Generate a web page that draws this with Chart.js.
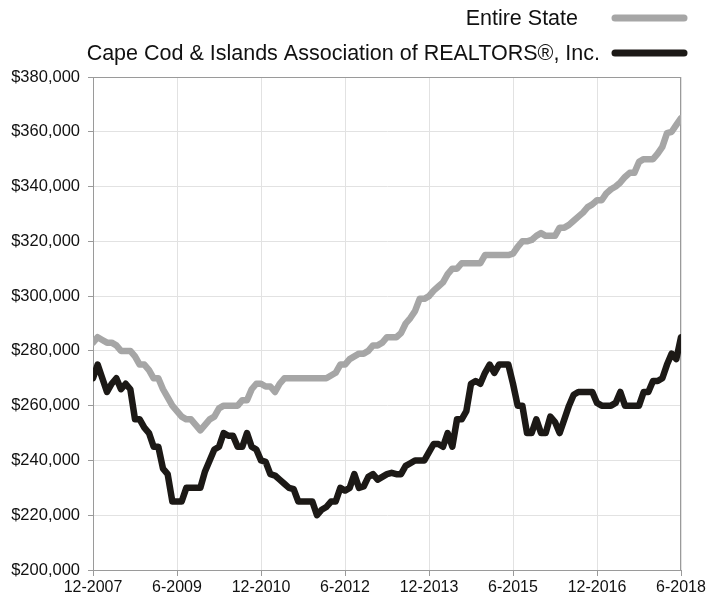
<!DOCTYPE html>
<html>
<head>
<meta charset="utf-8">
<script src="https://cdn.jsdelivr.net/npm/chart.js@4.4.1/dist/chart.umd.min.js"></script>
<style>
  html, body { margin: 0; padding: 0; background: #fff; }
  canvas { display: block; }
</style>
</head>
<body>
<canvas id="priceChart" width="723" height="596"></canvas>
<script>
// tick labels on the x axis, one every 18 months
const tickLabels = ['12-2007', '6-2009', '12-2010', '6-2012', '12-2013', '6-2015', '12-2016', '6-2018'];

const seriesNames = ['Entire State', 'Cape Cod & Islands Association of REALTORS®, Inc.'];

// monthly median price, 12-2007 .. 6-2018
const entireState = [
  283000, 285000, 284000, 283000, 283000, 282000, 280000, 280000, 280000, 278000,
  275000, 275000, 273000, 270000, 270000, 266000, 263000, 260000, 258000, 256000,
  255000, 255000, 253000, 251000, 253000, 255000, 256000, 259000, 260000, 260000,
  260000, 260000, 262000, 262000, 266000, 268000, 268000, 267000, 267000, 265000,
  268000, 270000, 270000, 270000, 270000, 270000, 270000, 270000, 270000, 270000,
  270000, 271000, 272000, 275000, 275000, 277000, 278000, 279000, 279000, 280000,
  282000, 282000, 283000, 285000, 285000, 285000, 286500, 290000, 292000, 294500,
  299000, 299000, 300000, 302000, 303500, 305000, 308000, 310000, 310000, 312000,
  312000, 312000, 312000, 312000, 315000, 315000, 315000, 315000, 315000, 315000,
  315500, 318000, 320000, 320000, 320500, 322000, 323000, 322000, 322000, 322000,
  325000, 325000, 326000, 327500, 329000, 330500, 332500, 333500, 335000, 335000,
  337500, 339000, 340000, 341500, 343500, 345000, 345000, 349000, 350000, 350000,
  350000, 352000, 354500, 359500, 360000, 362500, 365000
];

const capeCod = [
  270000, 275000, 270000, 265000, 268000, 270000, 266000, 268000, 266000, 255000,
  255000, 252000, 250000, 245000, 245000, 237000, 235000, 225000, 225000, 225000,
  230000, 230000, 230000, 230000, 236000, 240000, 244000, 245000, 250000, 249000,
  249000, 245000, 245000, 250000, 245000, 244000, 240000, 239500, 235000, 234500,
  233000, 231500, 230000, 229500, 225000, 225000, 225000, 225000, 220000, 222000,
  223000, 225000, 225000, 230000, 229000, 230000, 235000, 230000, 230500, 234000,
  235000, 233000, 234000, 235000, 235500, 235000, 235000, 238000, 239000, 240000,
  240000, 240000, 243000, 246000, 246000, 245000, 250000, 245000, 255000, 255000,
  258000, 268000, 269000, 268000, 272000, 275000, 272000, 275000, 275000, 275000,
  268000, 260000, 260000, 250000, 250000, 255000, 250000, 250000, 256000, 254000,
  250000, 255000, 260000, 264000, 265000, 265000, 265000, 265000, 261000, 260000,
  260000, 260000, 261000, 265000, 260000, 260000, 260000, 260000, 265000, 265000,
  269000, 269000, 270000, 275000, 279000, 277000, 285000
];

const lineColors = ['#a6a6a6', '#1c1916'];

const toPoints = (values) => values.map((v, i) => ({x: i, y: v}));

// legend drawn top right: text, then a short sample line
const topLegend = {
  id: 'topLegend',
  afterDraw(chart) {
    const c = chart.ctx;
    const rows = [18, 53];
    const textEnds = [578, 600];
    c.save();
    c.font = '21.5px "Liberation Sans", Arial, sans-serif';
    c.textAlign = 'right';
    c.textBaseline = 'middle';
    chart.data.datasets.forEach((ds, i) => {
      c.fillStyle = '#111';
      c.fillText(ds.label, textEnds[i], rows[i] + 1);
      c.strokeStyle = ds.borderColor;
      c.lineWidth = 7;
      c.lineCap = 'round';
      c.beginPath();
      c.moveTo(615, rows[i]);
      c.lineTo(684, rows[i]);
      c.stroke();
    });
    c.restore();
  }
};

// grey frame round the plot
const plotFrame = {
  id: 'plotFrame',
  beforeDatasetsDraw(chart) {
    const {ctx: c, chartArea: a} = chart;
    c.save();
    c.strokeStyle = '#9a9a9a';
    c.lineWidth = 1;
    c.strokeRect(a.left + 0.5, a.top + 0.5, a.right - a.left - 1, a.bottom - a.top);
    c.restore();
  }
};

new Chart(document.getElementById('priceChart'), {
  type: 'line',
  data: {
    datasets: [
      {
        label: seriesNames[0],
        data: toPoints(entireState),
        borderColor: lineColors[0],
        borderWidth: 6.5,
        borderJoinStyle: 'round',
        borderCapStyle: 'round',
        pointRadius: 0,
        tension: 0
      },
      {
        label: seriesNames[1],
        data: toPoints(capeCod),
        borderColor: lineColors[1],
        borderWidth: 6.5,
        borderJoinStyle: 'round',
        borderCapStyle: 'round',
        pointRadius: 0,
        tension: 0
      }
    ]
  },
  options: {
    responsive: false,
    animation: false,
    layout: { padding: { top: 77, right: 42, bottom: 0, left: 0 } },
    plugins: {
      legend: { display: false },
      tooltip: { enabled: false }
    },
    scales: {
      x: {
        type: 'linear',
        min: 0,
        max: 126,
        afterFit: (s) => { s.height = 26; },
        ticks: {
          stepSize: 18,
          autoSkip: false,
          maxRotation: 0,
          padding: 2,
          color: '#111',
          font: { family: '"Liberation Sans", Arial, sans-serif', size: 16 },
          callback: (v) => tickLabels[v / 18]
        },
        grid: { color: '#e2e2e2', tickColor: '#9a9a9a', tickLength: 6 },
        border: { color: '#9a9a9a' }
      },
      y: {
        min: 200000,
        max: 380000,
        afterFit: (s) => { s.width = 93; },
        ticks: {
          stepSize: 20000,
          padding: 8,
          color: '#111',
          font: { family: '"Liberation Sans", Arial, sans-serif', size: 16.5 },
          callback: (v) => '$' + v.toLocaleString('en-US')
        },
        grid: { color: '#e2e2e2', tickColor: '#9a9a9a', tickLength: 5 },
        border: { color: '#9a9a9a' }
      }
    }
  },
  plugins: [plotFrame, topLegend]
});
</script>
</body>
</html>
